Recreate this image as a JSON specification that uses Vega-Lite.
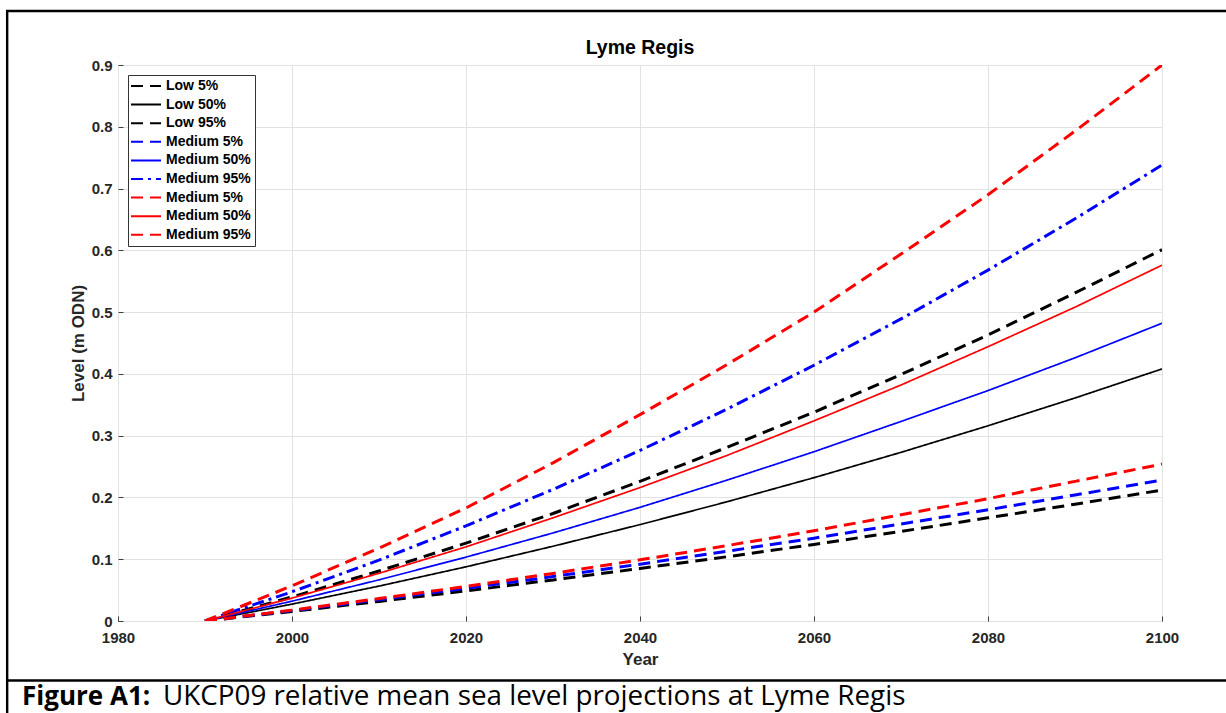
{
  "$schema": "https://vega.github.io/schema/vega-lite/v6.json",
  "width": 1044,
  "height": 556,
  "autosize": {"type": "none"},
  "padding": {"left": 118, "top": 65, "right": 64, "bottom": 92},
  "background": "white",
  "title": {"text": "Lyme Regis", "font": "Liberation Sans", "fontSize": 19.5, "fontWeight": "bold", "color": "#000000", "anchor": "middle", "offset": 8, "dy": 57},
  "config": {
    "view": {"stroke": "#8a8a8a", "strokeWidth": 1},
    "axis": {
      "grid": true, "gridColor": "#e2e2e2", "gridWidth": 1,
      "domain": false, "ticks": true, "tickColor": "#404040", "tickSize": -5,
      "labelFont": "Liberation Sans", "labelFontSize": 15, "labelFontWeight": "bold", "labelColor": "#262626",
      "labelFlush": false, "labelOverlap": false,
      "titleFont": "Liberation Sans", "titleFontSize": 17, "titleFontWeight": "bold", "titleColor": "#262626"
    },
    "legend": {
      "orient": "top-left", "offset": 10, "fillColor": "white", "strokeColor": "#333333", "strokeWidth": 1,
      "padding": 4, "rowPadding": 4.6, "labelOffset": 13, "symbolOffset": 7,
      "labelFont": "Liberation Sans", "labelFontSize": 14, "labelFontWeight": "bold", "labelColor": "#000000",
      "symbolType": "M-3,0H3", "symbolSize": 100, "symbolStrokeWidth": 2
    }
  },
  "layer": [
    {
      "data": {"values": [{"k": "frame"}]},
      "mark": {"type": "rect", "fill": null, "stroke": "#000000", "strokeWidth": 2.4, "clip": false},
      "encoding": {
        "x": {"datum": 1967.26, "type": "quantitative", "scale": {"domain": [1980, 2100], "nice": false}},
        "x2": {"datum": 2112},
        "y": {"datum": 0.9874, "type": "quantitative", "scale": {"domain": [0, 0.9], "nice": false}},
        "y2": {"datum": -0.3}
      }
    },
    {
      "data": {"values": [{"k": "divider"}]},
      "mark": {"type": "rule", "stroke": "#000000", "strokeWidth": 2.4, "clip": false},
      "encoding": {
        "x": {"datum": 1967.26, "type": "quantitative"},
        "x2": {"datum": 2112},
        "y": {"datum": -0.0963, "type": "quantitative"}
      }
    },
    {
      "data": {"values": [{"k": "c1"}]},
      "mark": {"type": "text", "text": "Figure A1:", "font": "Open Sans", "fontSize": 26, "fontWeight": "bold", "align": "left", "baseline": "alphabetic", "color": "#000000", "clip": false},
      "encoding": {
        "x": {"datum": 1968.97, "type": "quantitative"},
        "y": {"datum": -0.136, "type": "quantitative"}
      }
    },
    {
      "data": {"values": [{"k": "c2"}]},
      "mark": {"type": "text", "text": "UKCP09 relative mean sea level projections at Lyme Regis", "font": "Open Sans", "fontSize": 27.8, "align": "left", "baseline": "alphabetic", "color": "#000000", "clip": false},
      "encoding": {
        "x": {"datum": 1985.17, "type": "quantitative"},
        "y": {"datum": -0.136, "type": "quantitative"}
      }
    },
    {
      "data": {"values": [
        {"year": 1990, "series": "a", "level": 0}, {"year": 2000, "series": "a", "level": 0.0155}, {"year": 2010, "series": "a", "level": 0.0317}, {"year": 2020, "series": "a", "level": 0.0487}, {"year": 2030, "series": "a", "level": 0.0665}, {"year": 2040, "series": "a", "level": 0.085}, {"year": 2050, "series": "a", "level": 0.104}, {"year": 2060, "series": "a", "level": 0.124}, {"year": 2070, "series": "a", "level": 0.145}, {"year": 2080, "series": "a", "level": 0.167}, {"year": 2090, "series": "a", "level": 0.189}, {"year": 2100, "series": "a", "level": 0.212},
        {"year": 1990, "series": "b", "level": 0}, {"year": 2000, "series": "b", "level": 0.0273}, {"year": 2010, "series": "b", "level": 0.0565}, {"year": 2020, "series": "b", "level": 0.0877}, {"year": 2030, "series": "b", "level": 0.121}, {"year": 2040, "series": "b", "level": 0.156}, {"year": 2050, "series": "b", "level": 0.193}, {"year": 2060, "series": "b", "level": 0.232}, {"year": 2070, "series": "b", "level": 0.273}, {"year": 2080, "series": "b", "level": 0.316}, {"year": 2090, "series": "b", "level": 0.361}, {"year": 2100, "series": "b", "level": 0.408},
        {"year": 1990, "series": "c", "level": 0}, {"year": 2000, "series": "c", "level": 0.0389}, {"year": 2010, "series": "c", "level": 0.081}, {"year": 2020, "series": "c", "level": 0.126}, {"year": 2030, "series": "c", "level": 0.174}, {"year": 2040, "series": "c", "level": 0.226}, {"year": 2050, "series": "c", "level": 0.281}, {"year": 2060, "series": "c", "level": 0.338}, {"year": 2070, "series": "c", "level": 0.399}, {"year": 2080, "series": "c", "level": 0.463}, {"year": 2090, "series": "c", "level": 0.531}, {"year": 2100, "series": "c", "level": 0.601},
        {"year": 1990, "series": "d", "level": 0}, {"year": 2000, "series": "d", "level": 0.0168}, {"year": 2010, "series": "d", "level": 0.0345}, {"year": 2020, "series": "d", "level": 0.0529}, {"year": 2030, "series": "d", "level": 0.072}, {"year": 2040, "series": "d", "level": 0.092}, {"year": 2050, "series": "d", "level": 0.113}, {"year": 2060, "series": "d", "level": 0.134}, {"year": 2070, "series": "d", "level": 0.157}, {"year": 2080, "series": "d", "level": 0.18}, {"year": 2090, "series": "d", "level": 0.204}, {"year": 2100, "series": "d", "level": 0.228},
        {"year": 1990, "series": "e", "level": 0}, {"year": 2000, "series": "e", "level": 0.0321}, {"year": 2010, "series": "e", "level": 0.0666}, {"year": 2020, "series": "e", "level": 0.1034}, {"year": 2030, "series": "e", "level": 0.1425}, {"year": 2040, "series": "e", "level": 0.184}, {"year": 2050, "series": "e", "level": 0.228}, {"year": 2060, "series": "e", "level": 0.274}, {"year": 2070, "series": "e", "level": 0.323}, {"year": 2080, "series": "e", "level": 0.373}, {"year": 2090, "series": "e", "level": 0.426}, {"year": 2100, "series": "e", "level": 0.482},
        {"year": 1990, "series": "f", "level": 0}, {"year": 2000, "series": "f", "level": 0.0473}, {"year": 2010, "series": "f", "level": 0.0985}, {"year": 2020, "series": "f", "level": 0.154}, {"year": 2030, "series": "f", "level": 0.213}, {"year": 2040, "series": "f", "level": 0.276}, {"year": 2050, "series": "f", "level": 0.343}, {"year": 2060, "series": "f", "level": 0.414}, {"year": 2070, "series": "f", "level": 0.489}, {"year": 2080, "series": "f", "level": 0.568}, {"year": 2090, "series": "f", "level": 0.651}, {"year": 2100, "series": "f", "level": 0.738},
        {"year": 1990, "series": "g", "level": 0}, {"year": 2000, "series": "g", "level": 0.0176}, {"year": 2010, "series": "g", "level": 0.0363}, {"year": 2020, "series": "g", "level": 0.056}, {"year": 2030, "series": "g", "level": 0.077}, {"year": 2040, "series": "g", "level": 0.099}, {"year": 2050, "series": "g", "level": 0.122}, {"year": 2060, "series": "g", "level": 0.146}, {"year": 2070, "series": "g", "level": 0.172}, {"year": 2080, "series": "g", "level": 0.198}, {"year": 2090, "series": "g", "level": 0.226}, {"year": 2100, "series": "g", "level": 0.254},
        {"year": 1990, "series": "h", "level": 0}, {"year": 2000, "series": "h", "level": 0.0371}, {"year": 2010, "series": "h", "level": 0.0772}, {"year": 2020, "series": "h", "level": 0.12}, {"year": 2030, "series": "h", "level": 0.167}, {"year": 2040, "series": "h", "level": 0.216}, {"year": 2050, "series": "h", "level": 0.268}, {"year": 2060, "series": "h", "level": 0.324}, {"year": 2070, "series": "h", "level": 0.382}, {"year": 2080, "series": "h", "level": 0.444}, {"year": 2090, "series": "h", "level": 0.508}, {"year": 2100, "series": "h", "level": 0.576},
        {"year": 1990, "series": "i", "level": 0}, {"year": 2000, "series": "i", "level": 0.057}, {"year": 2010, "series": "i", "level": 0.118}, {"year": 2020, "series": "i", "level": 0.183}, {"year": 2030, "series": "i", "level": 0.256}, {"year": 2040, "series": "i", "level": 0.334}, {"year": 2050, "series": "i", "level": 0.415}, {"year": 2060, "series": "i", "level": 0.5}, {"year": 2070, "series": "i", "level": 0.594}, {"year": 2080, "series": "i", "level": 0.69}, {"year": 2090, "series": "i", "level": 0.793}, {"year": 2100, "series": "i", "level": 0.9}
      ]},
      "mark": {"type": "line", "clip": true},
      "encoding": {
        "x": {"field": "year", "type": "quantitative", "title": "Year",
              "axis": {"values": [1980, 2000, 2020, 2040, 2060, 2080, 2100], "format": "d", "labelPadding": 14, "titlePadding": 6}},
        "y": {"field": "level", "type": "quantitative", "title": "Level (m ODN)",
              "axis": {"values": [0, 0.1, 0.2, 0.3, 0.4, 0.5, 0.6, 0.7, 0.8, 0.9], "format": "~g", "labelPadding": 11, "titlePadding": 4}},
        "color": {"field": "series", "type": "nominal",
                  "scale": {"domain": ["a", "b", "c", "d", "e", "f", "g", "h", "i"], "range": ["#000000", "#000000", "#000000", "#0000ff", "#0000ff", "#0000ff", "#ff0000", "#ff0000", "#ff0000"]},
                  "legend": {"title": null, "labelExpr": "['Low 5%','Low 50%','Low 95%','Medium 5%','Medium 50%','Medium 95%','Medium 5%','Medium 50%','Medium 95%'][indexof(['a','b','c','d','e','f','g','h','i'], datum.value)]"}},
        "strokeDash": {"field": "series", "type": "nominal",
                       "scale": {"domain": ["a", "b", "c", "d", "e", "f", "g", "h", "i"], "range": [[12, 7], [1, 0], [12, 7], [12, 7], [1, 0], [12, 5, 3, 5], [12, 7], [1, 0], [12, 7]]},
                       "legend": {"title": null, "labelExpr": "['Low 5%','Low 50%','Low 95%','Medium 5%','Medium 50%','Medium 95%','Medium 5%','Medium 50%','Medium 95%'][indexof(['a','b','c','d','e','f','g','h','i'], datum.value)]"}},
        "strokeWidth": {"condition": {"test": "indexof(['b','e','h'], datum.series) >= 0", "value": 1.7}, "value": 3}
      }
    }
  ]
}
